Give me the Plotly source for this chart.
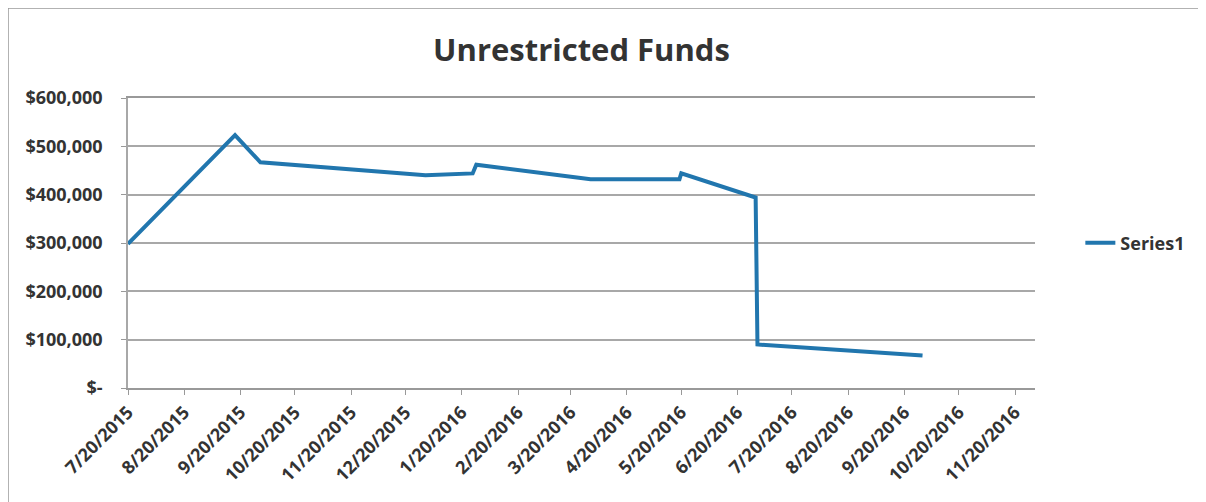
import plotly.graph_objects as go

# Data
dates = ["2015-07-20", "2015-09-17", "2015-10-01", "2015-12-31", "2016-01-26",
         "2016-01-28", "2016-03-31", "2016-05-19", "2016-05-20", "2016-06-30",
         "2016-07-01", "2016-09-30"]
values = [298000, 523000, 467000, 440000, 444000,
          462000, 432000, 432000, 444000, 394000,
          90000, 67000]

x_tick_dates = ["2015-07-20", "2015-08-20", "2015-09-20", "2015-10-20", "2015-11-20",
                "2015-12-20", "2016-01-20", "2016-02-20", "2016-03-20", "2016-04-20",
                "2016-05-20", "2016-06-20", "2016-07-20", "2016-08-20", "2016-09-20",
                "2016-10-20", "2016-11-20"]
x_tick_labels = ["7/20/2015", "8/20/2015", "9/20/2015", "10/20/2015", "11/20/2015",
                 "12/20/2015", "1/20/2016", "2/20/2016", "3/20/2016", "4/20/2016",
                 "5/20/2016", "6/20/2016", "7/20/2016", "8/20/2016", "9/20/2016",
                 "10/20/2016", "11/20/2016"]
y_tick_vals = [0, 100000, 200000, 300000, 400000, 500000, 600000]
y_tick_labels = ["$-", "$100,000", "$200,000", "$300,000", "$400,000", "$500,000", "$600,000"]

FONT = "Open Sans"
TXT = "#333333"
GRID = "#a8a8a8"

L, R, T, B = 120, 179, 90, 122
PW = 1206 - L - R
PH = 502 - T - B

fig = go.Figure()
fig.add_trace(go.Scatter(
    x=dates, y=values, mode="lines", name="Series1",
    line=dict(color="#2176ae", width=4),
))

fig.update_layout(
    width=1206, height=502,
    paper_bgcolor="white", plot_bgcolor="white",
    margin=dict(l=L, r=R, t=T, b=B, autoexpand=False),
    title=dict(text="<b>Unrestricted Funds</b>", x=0.5, xanchor="center",
               xref="paper", yref="container",
               y=1 - 42 / 502, yanchor="middle",
               font=dict(family=FONT, size=31, color=TXT)),
    showlegend=True,
    legend=dict(x=1.05, xanchor="left", y=0.5, yanchor="middle",
                font=dict(family=FONT, size=18, color=TXT, weight="bold"),
                bgcolor="rgba(0,0,0,0)"),
    xaxis=dict(
        type="date",
        range=["2015-07-20", "2016-12-01"],
        tickmode="array", tickvals=x_tick_dates, ticktext=x_tick_labels,
        tickangle=-45,
        tickfont=dict(family=FONT, size=18, color=TXT, weight="bold"),
        ticks="outside", ticklen=5, tickcolor="#999999",
        showgrid=False, showline=True, linecolor="#999999", linewidth=1.5,
        mirror=True, zeroline=False, automargin=False,
    ),
    yaxis=dict(
        range=[0, 600000],
        tickmode="array", tickvals=y_tick_vals, ticktext=y_tick_labels,
        tickfont=dict(family=FONT, size=18, color=TXT, weight="bold"),
        ticks="outside", ticklen=5, tickcolor="#999999",
        ticklabelstandoff=15,
        showgrid=True, gridcolor=GRID, gridwidth=1.5,
        showline=True, linecolor=GRID, linewidth=1.5,
        zeroline=False, automargin=False,
    ),
    shapes=[dict(type="rect", xref="paper", yref="paper",
                 x0=(0 - L) / PW, x1=(1200 - L) / PW,
                 y0=(T + PH - 510) / PH, y1=(T + PH) / PH,
                 line=dict(color="#999999", width=1.5))],
)

fig.write_html("out.html")
